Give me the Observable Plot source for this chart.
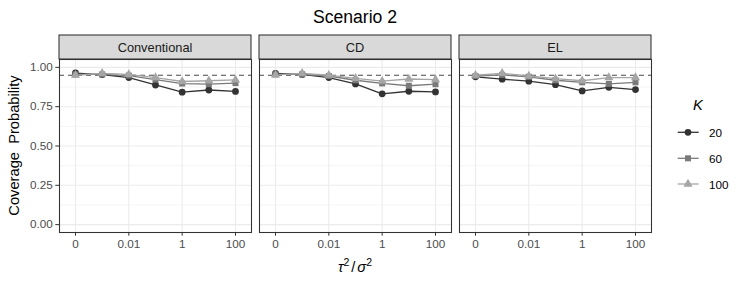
<!DOCTYPE html>
<html>
<head>
<meta charset="utf-8">
<script src="https://cdn.jsdelivr.net/npm/d3@7"></script>
<script src="https://cdn.jsdelivr.net/npm/@observablehq/plot@0.6"></script>
<style>
  body { margin: 0; background: #fff; }
  #wrap { width: 747px; height: 288px; position: relative; font-family: "Liberation Sans", Arial, sans-serif; }
  #title { width: 710px; height: 30px; text-align: center; font-size: 17.6px; line-height: 26px; padding-top: 4px; box-sizing: border-box; color: #000; }
</style>
</head>
<body>
<div id="wrap">
  <div id="title">Scenario 2</div>
  <div id="plot"></div>
</div>
<script>
// ---- data ----
const methods = ["Conventional", "CD", "EL"];
const xCategories = ["0", "0.001", "0.01", "0.1", "1", "10", "100"];
const tickLabels = ["0", "0.01", "1", "100"];
const Ks = ["20", "60", "100"];
const kColors = ["#333333", "#7a7a7a", "#a6a6a6"];
const kSymbols = ["circle", "square", "triangle"];
const yTicks = [0, 0.25, 0.5, 0.75, 1];
const yMinor = [0.125, 0.375, 0.625, 0.875];
const nominal = [0.95];

const conventional20 = [0.964, 0.954, 0.935, 0.888, 0.842, 0.856, 0.847];
const conventional60 = [0.955, 0.955, 0.948, 0.922, 0.897, 0.893, 0.900];
const conventional100 = [0.950, 0.962, 0.955, 0.935, 0.910, 0.915, 0.920];
const cd20 = [0.962, 0.955, 0.935, 0.895, 0.832, 0.848, 0.844];
const cd60 = [0.955, 0.955, 0.945, 0.918, 0.898, 0.883, 0.893];
const cd100 = [0.952, 0.962, 0.950, 0.930, 0.912, 0.926, 0.922];
const el20 = [0.940, 0.925, 0.912, 0.890, 0.850, 0.873, 0.859];
const el60 = [0.945, 0.952, 0.940, 0.918, 0.905, 0.895, 0.905];
const el100 = [0.950, 0.962, 0.945, 0.928, 0.915, 0.935, 0.935];

const series = {
  "Conventional": [conventional20, conventional60, conventional100],
  "CD": [cd20, cd60, cd100],
  "EL": [el20, el60, el100]
};

const rows = [];
for (const m of methods) {
  Ks.forEach((k, ki) => {
    series[m][ki].forEach((v, i) => {
      rows.push({method: m, K: k, xi: i + 1, cat: xCategories[i], value: v});
    });
  });
}
const tickPos = tickLabels.map(t => xCategories.indexOf(t) + 1);
const tickFmt = p => xCategories[p - 1];

const font = '"Liberation Sans", Arial, sans-serif';

const plot = Plot.plot({
  width: 747,
  height: 258,
  marginTop: 29,
  marginBottom: 56,
  marginLeft: 59,
  marginRight: 96,
  style: {fontFamily: font, fontSize: "11.7px", background: "white", overflow: "visible"},
  fx: {domain: methods, paddingInner: 0.04, paddingOuter: 0, axis: null, label: null},
  x: {domain: [0.4, 7.6], axis: null},
  y: {domain: [-0.05, 1.05], axis: null},
  color: {domain: Ks, range: kColors},
  symbol: {domain: Ks, range: kSymbols},
  marks: [
    Plot.gridY({ticks: yMinor, stroke: "#ebebeb", strokeOpacity: 1, strokeWidth: 0.55}),
    Plot.gridY({ticks: yTicks, stroke: "#ebebeb", strokeOpacity: 1, strokeWidth: 1.07}),
    Plot.gridX({ticks: tickPos, stroke: "#ebebeb", strokeOpacity: 1, strokeWidth: 1.07}),
    Plot.ruleY(nominal, {stroke: "#4a4a4a", strokeWidth: 1.1, strokeDasharray: "5,4"}),
    Plot.line(rows, {fx: "method", x: "xi", y: "value", z: "K", stroke: "K", strokeWidth: 1.3}),
    Plot.dot(rows, {fx: "method", x: "xi", y: "value", fill: "K", symbol: "K", r: 3.4, stroke: null}),
    Plot.frame({stroke: "#333333", strokeWidth: 1.07}),
    Plot.axisY({ticks: yTicks, tickFormat: d3.format(".2f"), tickSize: 3.7, tickPadding: 3,
      label: null, anchor: "left", stroke: "#333333", fill: "#4d4d4d", fontSize: 11.7}),
    Plot.axisX({ticks: tickPos, tickFormat: tickFmt, tickSize: 3.7, tickPadding: 3,
      label: null, anchor: "bottom", stroke: "#333333", fill: "#4d4d4d", fontSize: 11.7})
  ]
});

document.getElementById("plot").appendChild(plot);

// ---- strips, axis titles, legend ----
const svg = d3.select(plot);
const fx = plot.scale("fx");
const bw = fx.bandwidth;
const strips = svg.append("g");
for (const m of methods) {
  const x0 = fx.apply(m);
  strips.append("rect")
    .attr("x", x0).attr("y", 5).attr("width", bw).attr("height", 24)
    .attr("fill", "#d9d9d9").attr("stroke", "#333333").attr("stroke-width", 1.07);
  strips.append("text")
    .attr("x", x0 + bw / 2).attr("y", 17.5)
    .attr("text-anchor", "middle").attr("dominant-baseline", "central")
    .attr("font-size", 12.8).attr("fill", "#1a1a1a").attr("font-family", font)
    .text(m);
}

// y title
svg.append("text")
  .attr("transform", "translate(18.5,115.5) rotate(-90)")
  .attr("text-anchor", "middle").attr("font-size", 14.7).attr("fill", "#000")
  .attr("font-family", font).attr("xml:space", "preserve")
  .text("Coverage  Probability");

// x title  tau^2 / sigma^2
const xt = svg.append("text")
  .attr("x", 355).attr("y", 242).attr("text-anchor", "middle")
  .attr("font-size", 14.7).attr("fill", "#000").attr("font-family", font);
xt.append("tspan").attr("font-style", "italic").text("\u03C4");
xt.append("tspan").attr("font-size", 10.5).attr("dy", -6).text("2");
xt.append("tspan").attr("dy", 6).attr("dx", 2).text("/");
xt.append("tspan").attr("font-style", "italic").attr("dx", 2).text("\u03C3");
xt.append("tspan").attr("font-size", 10.5).attr("dy", -6).text("2");

// legend
const lg = svg.append("g");
lg.append("text").attr("x", 698).attr("y", 80).attr("text-anchor", "middle")
  .attr("font-size", 14.7).attr("font-style", "italic").attr("font-family", font).attr("fill", "#000").text("K");
const symMap = {circle: d3.symbolCircle, square: d3.symbolSquare, triangle: d3.symbolTriangle};
const legendY = [102.3, 128.3, 154];
Ks.forEach((k, i) => {
  const y = legendY[i];
  lg.append("line").attr("x1", 677.7).attr("x2", 698.7).attr("y1", y).attr("y2", y)
    .attr("stroke", kColors[i]).attr("stroke-width", 1.3);
  lg.append("path").attr("d", d3.symbol(symMap[kSymbols[i]], Math.PI * 3.4 * 3.4)())
    .attr("transform", `translate(688,${y})`).attr("fill", kColors[i]);
  lg.append("text").attr("x", 709).attr("y", y).attr("dominant-baseline", "central")
    .attr("text-anchor", "start")
    .attr("font-size", 11.7).attr("font-family", font).attr("fill", "#000").text(k);
});
</script>
</body>
</html>
